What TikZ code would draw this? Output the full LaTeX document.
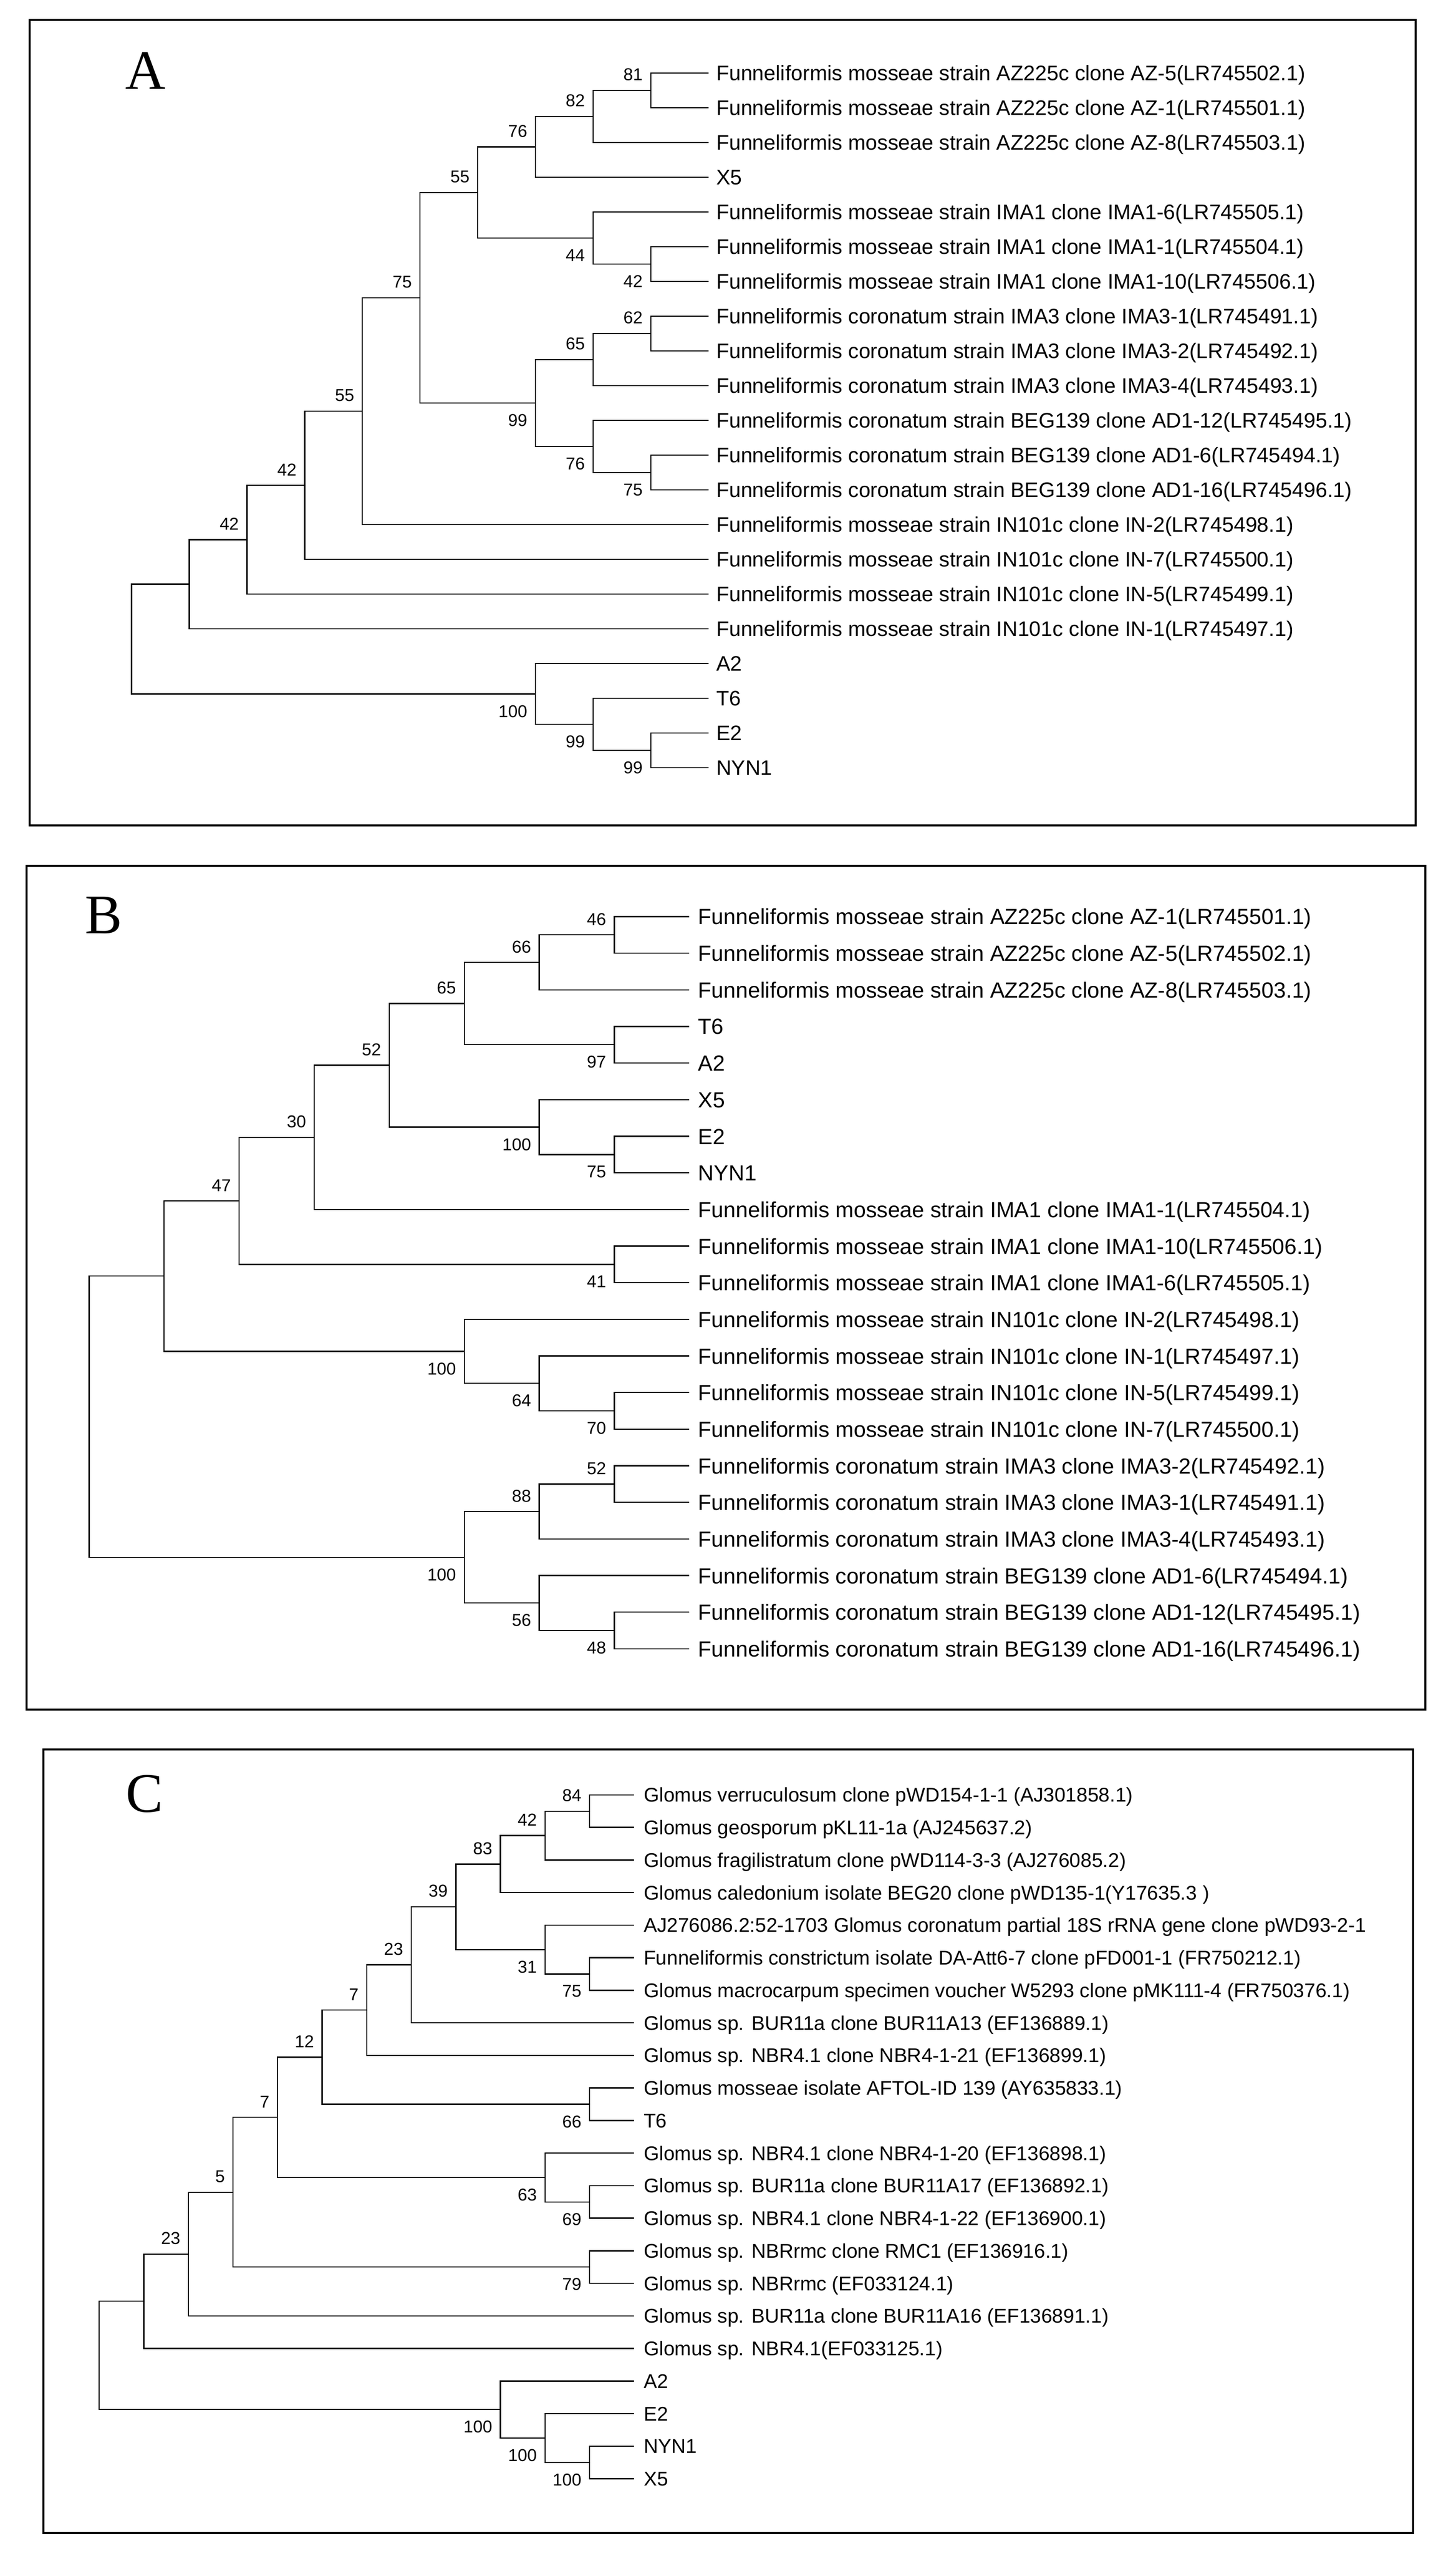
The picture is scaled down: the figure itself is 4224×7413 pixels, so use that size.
\documentclass[tikz,border=0pt]{standalone}
\usepackage{fontspec}
\setmainfont{Liberation Sans}
\newfontfamily\letterfont{Liberation Serif}

\begin{document}
\begin{tikzpicture}[
  x=0.01cm, y=-0.01cm,
  frame/.style={line width=1.7pt},
  branch/.style={line width=1pt},
  leaf/.style={inner sep=0pt, anchor=base west},
  bsa/.style={font=\fontsize{14.2}{16}\selectfont, inner sep=0pt, anchor=south east, xshift=-0.23cm, yshift=0.27cm},
  bsb/.style={font=\fontsize{14.2}{16}\selectfont, inner sep=0pt, anchor=north east, xshift=-0.23cm, yshift=-0.32cm},
  letter/.style={font=\letterfont\fontsize{46}{50}\selectfont, inner sep=0pt, anchor=base west},
]
  \useasboundingbox (0,0) rectangle (4224,7413);

  % Panel frames
  \draw[frame] (86.7,58.3) rectangle (4108.7,2396.3);
  \draw[frame] (77.7,2513.3) rectangle (4135.7,4962.7);
  \draw[frame] (125.7,5078) rectangle (4100.7,7351.7);

  \node[letter] (labA) at (364,259.3) {A};
  \node[letter] (labB) at (246,2709.3) {B};
  \node[letter] (labC) at (365,5260) {C};

  % Tree A
  \begin{scope}[shift={(382,212)}, x=1.673cm, y=-1.0075cm,
    leaf/.append style={font=\fontsize{17.35}{20}\selectfont, xshift=0.22cm, yshift=-0.22cm}]
    \foreach \r/\t in {
      0/{Funneliformis mosseae strain AZ225c clone AZ-5(LR745502.1)},
      1/{Funneliformis mosseae strain AZ225c clone AZ-1(LR745501.1)},
      2/{Funneliformis mosseae strain AZ225c clone AZ-8(LR745503.1)},
      3/{X5},
      4/{Funneliformis mosseae strain IMA1 clone IMA1-6(LR745505.1)},
      5/{Funneliformis mosseae strain IMA1 clone IMA1-1(LR745504.1)},
      6/{Funneliformis mosseae strain IMA1 clone IMA1-10(LR745506.1)},
      7/{Funneliformis coronatum strain IMA3 clone IMA3-1(LR745491.1)},
      8/{Funneliformis coronatum strain IMA3 clone IMA3-2(LR745492.1)},
      9/{Funneliformis coronatum strain IMA3 clone IMA3-4(LR745493.1)},
      10/{Funneliformis coronatum strain BEG139 clone AD1-12(LR745495.1)},
      11/{Funneliformis coronatum strain BEG139 clone AD1-6(LR745494.1)},
      12/{Funneliformis coronatum strain BEG139 clone AD1-16(LR745496.1)},
      13/{Funneliformis mosseae strain IN101c clone IN-2(LR745498.1)},
      14/{Funneliformis mosseae strain IN101c clone IN-7(LR745500.1)},
      15/{Funneliformis mosseae strain IN101c clone IN-5(LR745499.1)},
      16/{Funneliformis mosseae strain IN101c clone IN-1(LR745497.1)},
      17/{A2}, 18/{T6}, 19/{E2}, 20/{NYN1}} {
      \coordinate (aL\r) at (10,\r);
      \node[leaf] (aT\r) at (aL\r) {\t};
    }
    \coordinate (an1) at (9,0.5);
    \coordinate (an2) at (8,1.25);
    \coordinate (an3) at (7,2.125);
    \coordinate (an4) at (9,5.5);
    \coordinate (an5) at (8,4.75);
    \coordinate (an6) at (6,3.4375);
    \coordinate (an7) at (9,7.5);
    \coordinate (an8) at (8,8.25);
    \coordinate (an9) at (9,11.5);
    \coordinate (an10) at (8,10.75);
    \coordinate (an11) at (7,9.5);
    \coordinate (an12) at (5,6.46875);
    \coordinate (an13) at (4,9.734375);
    \coordinate (an14) at (3,11.8671875);
    \coordinate (an15) at (2,13.43359375);
    \coordinate (an16) at (1,14.716796875);
    \coordinate (an17) at (9,19.5);
    \coordinate (an18) at (8,18.75);
    \coordinate (an19) at (7,17.875);
    \coordinate (an0) at (0,16.2958984375);

    \draw[branch] (aL0) -| (an1) |- (aL1);
    \draw[branch] (an1) -| (an2) |- (aL2);
    \draw[branch] (an2) -| (an3) |- (aL3);
    \draw[branch] (aL5) -| (an4) |- (aL6);
    \draw[branch] (aL4) -| (an5) |- (an4);
    \draw[branch] (an3) -| (an6) |- (an5);
    \draw[branch] (aL7) -| (an7) |- (aL8);
    \draw[branch] (an7) -| (an8) |- (aL9);
    \draw[branch] (aL11) -| (an9) |- (aL12);
    \draw[branch] (aL10) -| (an10) |- (an9);
    \draw[branch] (an8) -| (an11) |- (an10);
    \draw[branch] (an6) -| (an12) |- (an11);
    \draw[branch] (an12) -| (an13) |- (aL13);
    \draw[branch] (an13) -| (an14) |- (aL14);
    \draw[branch] (an14) -| (an15) |- (aL15);
    \draw[branch] (an15) -| (an16) |- (aL16);
    \draw[branch] (aL19) -| (an17) |- (aL20);
    \draw[branch] (aL18) -| (an18) |- (an17);
    \draw[branch] (aL17) -| (an19) |- (an18);
    \draw[branch] (an16) -| (an0) |- (an19);

    % Bootstrap values
    \node[bsa] (an1v) at (an1) {81};
    \node[bsa] (an2v) at (an2) {82};
    \node[bsa] (an3v) at (an3) {76};
    \node[bsb] (an4v) at (an4) {42};
    \node[bsb] (an5v) at (an5) {44};
    \node[bsa] (an6v) at (an6) {55};
    \node[bsa] (an7v) at (an7) {62};
    \node[bsa] (an8v) at (an8) {65};
    \node[bsb] (an9v) at (an9) {75};
    \node[bsb] (an10v) at (an10) {76};
    \node[bsb] (an11v) at (an11) {99};
    \node[bsa] (an12v) at (an12) {75};
    \node[bsa] (an13v) at (an13) {55};
    \node[bsa] (an14v) at (an14) {42};
    \node[bsa] (an15v) at (an15) {42};
    \node[bsb] (an17v) at (an17) {99};
    \node[bsb] (an18v) at (an18) {99};
    \node[bsb] (an19v) at (an19) {100};
  \end{scope}

  % Tree B
  \begin{scope}[shift={(258.6,2660.4)}, x=2.176cm, y=-1.062cm,
    leaf/.append style={font=\fontsize{18.07}{21}\selectfont, xshift=0.25cm, yshift=-0.23cm}]
    \foreach \r/\t in {
      0/{Funneliformis mosseae strain AZ225c clone AZ-1(LR745501.1)},
      1/{Funneliformis mosseae strain AZ225c clone AZ-5(LR745502.1)},
      2/{Funneliformis mosseae strain AZ225c clone AZ-8(LR745503.1)},
      3/{T6}, 4/{A2}, 5/{X5}, 6/{E2}, 7/{NYN1},
      8/{Funneliformis mosseae strain IMA1 clone IMA1-1(LR745504.1)},
      9/{Funneliformis mosseae strain IMA1 clone IMA1-10(LR745506.1)},
      10/{Funneliformis mosseae strain IMA1 clone IMA1-6(LR745505.1)},
      11/{Funneliformis mosseae strain IN101c clone IN-2(LR745498.1)},
      12/{Funneliformis mosseae strain IN101c clone IN-1(LR745497.1)},
      13/{Funneliformis mosseae strain IN101c clone IN-5(LR745499.1)},
      14/{Funneliformis mosseae strain IN101c clone IN-7(LR745500.1)},
      15/{Funneliformis coronatum strain IMA3 clone IMA3-2(LR745492.1)},
      16/{Funneliformis coronatum strain IMA3 clone IMA3-1(LR745491.1)},
      17/{Funneliformis coronatum strain IMA3 clone IMA3-4(LR745493.1)},
      18/{Funneliformis coronatum strain BEG139 clone AD1-6(LR745494.1)},
      19/{Funneliformis coronatum strain BEG139 clone AD1-12(LR745495.1)},
      20/{Funneliformis coronatum strain BEG139 clone AD1-16(LR745496.1)}} {
      \coordinate (bL\r) at (8,\r);
      \node[leaf] (bT\r) at (bL\r) {\t};
    }
    \coordinate (bn1) at (7,0.5);
    \coordinate (bn2) at (6,1.25);
    \coordinate (bn3) at (7,3.5);
    \coordinate (bn4) at (5,2.375);
    \coordinate (bn5) at (7,6.5);
    \coordinate (bn6) at (6,5.75);
    \coordinate (bn7) at (4,4.0625);
    \coordinate (bn8) at (3,6.03125);
    \coordinate (bn9) at (7,9.5);
    \coordinate (bn10) at (2,7.765625);
    \coordinate (bn11) at (7,13.5);
    \coordinate (bn12) at (6,12.75);
    \coordinate (bn13) at (5,11.875);
    \coordinate (bn14) at (1,9.8203125);
    \coordinate (bn15) at (7,15.5);
    \coordinate (bn16) at (6,16.25);
    \coordinate (bn17) at (7,19.5);
    \coordinate (bn18) at (6,18.75);
    \coordinate (bn19) at (5,17.5);
    \coordinate (bn0) at (0,13.66015625);

    \draw[branch] (bL0) -| (bn1) |- (bL1);
    \draw[branch] (bn1) -| (bn2) |- (bL2);
    \draw[branch] (bL3) -| (bn3) |- (bL4);
    \draw[branch] (bn2) -| (bn4) |- (bn3);
    \draw[branch] (bL6) -| (bn5) |- (bL7);
    \draw[branch] (bL5) -| (bn6) |- (bn5);
    \draw[branch] (bn4) -| (bn7) |- (bn6);
    \draw[branch] (bn7) -| (bn8) |- (bL8);
    \draw[branch] (bL9) -| (bn9) |- (bL10);
    \draw[branch] (bn8) -| (bn10) |- (bn9);
    \draw[branch] (bL13) -| (bn11) |- (bL14);
    \draw[branch] (bL12) -| (bn12) |- (bn11);
    \draw[branch] (bL11) -| (bn13) |- (bn12);
    \draw[branch] (bn10) -| (bn14) |- (bn13);
    \draw[branch] (bL15) -| (bn15) |- (bL16);
    \draw[branch] (bn15) -| (bn16) |- (bL17);
    \draw[branch] (bL19) -| (bn17) |- (bL20);
    \draw[branch] (bL18) -| (bn18) |- (bn17);
    \draw[branch] (bn16) -| (bn19) |- (bn18);
    \draw[branch] (bn14) -| (bn0) |- (bn19);

    % Bootstrap values
    \node[bsa] (bn1v) at (bn1) {46};
    \node[bsa] (bn2v) at (bn2) {66};
    \node[bsb] (bn3v) at (bn3) {97};
    \node[bsa] (bn4v) at (bn4) {65};
    \node[bsb] (bn5v) at (bn5) {75};
    \node[bsb] (bn6v) at (bn6) {100};
    \node[bsa] (bn7v) at (bn7) {52};
    \node[bsa] (bn8v) at (bn8) {30};
    \node[bsb] (bn9v) at (bn9) {41};
    \node[bsa] (bn10v) at (bn10) {47};
    \node[bsb] (bn11v) at (bn11) {70};
    \node[bsb] (bn12v) at (bn12) {64};
    \node[bsb] (bn13v) at (bn13) {100};
    \node[bsa] (bn15v) at (bn15) {52};
    \node[bsa] (bn16v) at (bn16) {88};
    \node[bsb] (bn17v) at (bn17) {48};
    \node[bsb] (bn18v) at (bn18) {56};
    \node[bsb] (bn19v) at (bn19) {100};
  \end{scope}

  % Tree C
  \begin{scope}[shift={(288,5209.6)}, x=1.293cm, y=-0.9446cm,
    leaf/.append style={font=\fontsize{16.4}{19}\selectfont, xshift=0.27cm, yshift=-0.207cm}]
    \foreach \r/\t in {
      0/{Glomus verruculosum clone pWD154-1-1 (AJ301858.1)},
      1/{Glomus geosporum pKL11-1a (AJ245637.2)},
      2/{Glomus fragilistratum clone pWD114-3-3 (AJ276085.2)},
      3/{Glomus caledonium isolate BEG20 clone pWD135-1(Y17635.3 )},
      4/{AJ276086.2:52-1703 Glomus coronatum partial 18S rRNA gene clone pWD93-2-1},
      5/{Funneliformis constrictum isolate DA-Att6-7 clone pFD001-1 (FR750212.1)},
      6/{Glomus macrocarpum specimen voucher W5293 clone pMK111-4 (FR750376.1)},
      7/{Glomus sp. BUR11a clone BUR11A13 (EF136889.1)},
      8/{Glomus sp. NBR4.1 clone NBR4-1-21 (EF136899.1)},
      9/{Glomus mosseae isolate AFTOL-ID 139 (AY635833.1)},
      10/{T6},
      11/{Glomus sp. NBR4.1 clone NBR4-1-20 (EF136898.1)},
      12/{Glomus sp. BUR11a clone BUR11A17 (EF136892.1)},
      13/{Glomus sp. NBR4.1 clone NBR4-1-22 (EF136900.1)},
      14/{Glomus sp. NBRrmc clone RMC1 (EF136916.1)},
      15/{Glomus sp. NBRrmc (EF033124.1)},
      16/{Glomus sp. BUR11a clone BUR11A16 (EF136891.1)},
      17/{Glomus sp. NBR4.1(EF033125.1)},
      18/{A2}, 19/{E2}, 20/{NYN1}, 21/{X5}} {
      \coordinate (cL\r) at (12,\r);
      \node[leaf] (cT\r) at (cL\r) {\t};
    }
    \coordinate (cn1) at (11,0.5);
    \coordinate (cn2) at (10,1.25);
    \coordinate (cn3) at (9,2.125);
    \coordinate (cn4) at (11,5.5);
    \coordinate (cn5) at (10,4.75);
    \coordinate (cn6) at (8,3.4375);
    \coordinate (cn7) at (7,5.21875);
    \coordinate (cn8) at (6,6.609375);
    \coordinate (cn9) at (11,9.5);
    \coordinate (cn10) at (5,8.0546875);
    \coordinate (cn11) at (11,12.5);
    \coordinate (cn12) at (10,11.75);
    \coordinate (cn13) at (4,9.90234375);
    \coordinate (cn14) at (11,14.5);
    \coordinate (cn15) at (3,12.201171875);
    \coordinate (cn16) at (2,14.1005859375);
    \coordinate (cn17) at (1,15.55029296875);
    \coordinate (cn18) at (11,20.5);
    \coordinate (cn19) at (10,19.75);
    \coordinate (cn20) at (9,18.875);
    \coordinate (cn0) at (0,17.212646484375);

    \draw[branch] (cL0) -| (cn1) |- (cL1);
    \draw[branch] (cn1) -| (cn2) |- (cL2);
    \draw[branch] (cn2) -| (cn3) |- (cL3);
    \draw[branch] (cL5) -| (cn4) |- (cL6);
    \draw[branch] (cL4) -| (cn5) |- (cn4);
    \draw[branch] (cn3) -| (cn6) |- (cn5);
    \draw[branch] (cn6) -| (cn7) |- (cL7);
    \draw[branch] (cn7) -| (cn8) |- (cL8);
    \draw[branch] (cL9) -| (cn9) |- (cL10);
    \draw[branch] (cn8) -| (cn10) |- (cn9);
    \draw[branch] (cL12) -| (cn11) |- (cL13);
    \draw[branch] (cL11) -| (cn12) |- (cn11);
    \draw[branch] (cn10) -| (cn13) |- (cn12);
    \draw[branch] (cL14) -| (cn14) |- (cL15);
    \draw[branch] (cn13) -| (cn15) |- (cn14);
    \draw[branch] (cn15) -| (cn16) |- (cL16);
    \draw[branch] (cn16) -| (cn17) |- (cL17);
    \draw[branch] (cL20) -| (cn18) |- (cL21);
    \draw[branch] (cL19) -| (cn19) |- (cn18);
    \draw[branch] (cL18) -| (cn20) |- (cn19);
    \draw[branch] (cn17) -| (cn0) |- (cn20);

    % Bootstrap values
    \node[bsa] (cn1v) at (cn1) {84};
    \node[bsa] (cn2v) at (cn2) {42};
    \node[bsa] (cn3v) at (cn3) {83};
    \node[bsb] (cn4v) at (cn4) {75};
    \node[bsb] (cn5v) at (cn5) {31};
    \node[bsa] (cn6v) at (cn6) {39};
    \node[bsa] (cn7v) at (cn7) {23};
    \node[bsa] (cn8v) at (cn8) {7};
    \node[bsb] (cn9v) at (cn9) {66};
    \node[bsa] (cn10v) at (cn10) {12};
    \node[bsb] (cn11v) at (cn11) {69};
    \node[bsb] (cn12v) at (cn12) {63};
    \node[bsa] (cn13v) at (cn13) {7};
    \node[bsb] (cn14v) at (cn14) {79};
    \node[bsa] (cn15v) at (cn15) {5};
    \node[bsa] (cn16v) at (cn16) {23};
    \node[bsb] (cn18v) at (cn18) {100};
    \node[bsb] (cn19v) at (cn19) {100};
    \node[bsb] (cn20v) at (cn20) {100};
  \end{scope}
\end{tikzpicture}
\end{document}
